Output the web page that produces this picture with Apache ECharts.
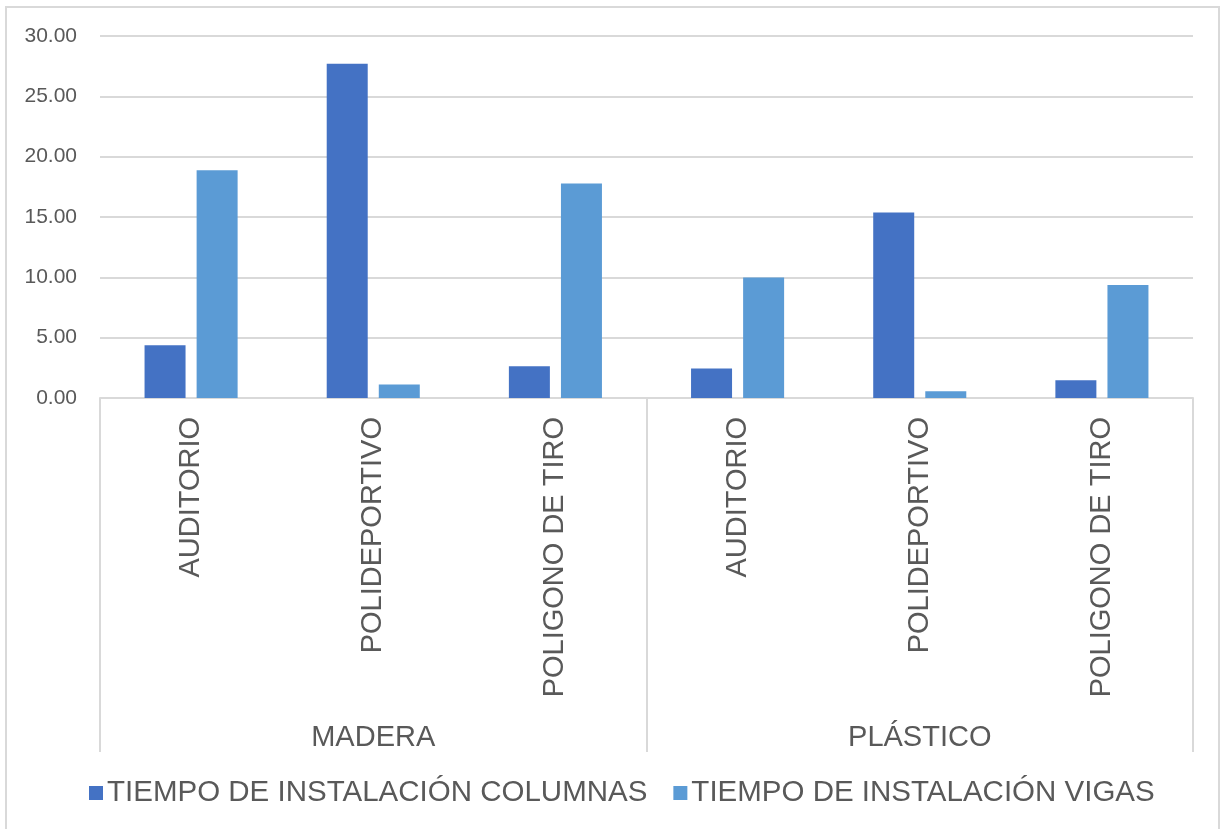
<!DOCTYPE html>
<html>
<head>
<meta charset="utf-8">
<script src="https://cdn.jsdelivr.net/npm/echarts@6/dist/echarts.min.js"></script>
<style>
html,body{margin:0;padding:0;background:#fff;}
#frame{position:absolute;left:5px;top:6px;width:1215px;height:830px;border:2px solid #d9d9d9;box-sizing:border-box;}
#chart{position:absolute;left:0;top:0;width:1224px;height:829px;}
</style>
</head>
<body>
<div id="frame"></div>
<div id="chart"></div>
<script>
const categories = ['AUDITORIO', 'POLIDEPORTIVO', 'POLIGONO DE TIRO', 'AUDITORIO', 'POLIDEPORTIVO', 'POLIGONO DE TIRO'];
const groups = ['MADERA', 'PLÁSTICO'];
const seriesNames = ['TIEMPO DE INSTALACIÓN COLUMNAS', 'TIEMPO DE INSTALACIÓN VIGAS'];
const columnas = [4.37, 27.70, 2.63, 2.44, 15.37, 1.47];
const vigas = [18.88, 1.11, 17.78, 9.98, 0.56, 9.37];
const yTicks = { min: 0, max: 30, interval: 5 };

const FONT = '"Liberation Sans", Arial, sans-serif';
const TXT = '#595959';
const LINE = '#d9d9d9';

const chart = echarts.init(document.getElementById('chart'), null, { renderer: 'canvas' });
chart.setOption({
  animation: false,
  backgroundColor: 'transparent',
  textStyle: { fontFamily: FONT },
  grid: { left: 100, right: 31, top: 36, bottom: 431, containLabel: false },
  legend: {
    data: seriesNames,
    left: 84,
    top: 773,
    icon: 'rect',
    itemWidth: 14,
    itemHeight: 14,
    itemGap: 26,
    textStyle: { fontFamily: FONT, fontSize: 29.5, color: TXT, padding: [0, 0, 0, -1] }
  },
  xAxis: [
    {
      type: 'category',
      data: categories,
      position: 'bottom',
      axisLine: { show: true, lineStyle: { color: LINE, width: 2 } },
      axisTick: { show: false },
      axisLabel: {
        rotate: 90,
        interval: 0,
        margin: 19,
        fontFamily: FONT,
        fontSize: 29,
        color: TXT
      },
      splitLine: { show: false }
    },
    {
      type: 'category',
      data: groups,
      position: 'bottom',
      axisLine: { show: false },
      axisTick: { show: true, interval: 0, length: 354, lineStyle: { color: LINE, width: 2 } },
      axisLabel: {
        interval: 0,
        margin: 325,
        fontFamily: FONT,
        fontSize: 29,
        color: TXT
      },
      splitLine: { show: false }
    }
  ],
  yAxis: {
    type: 'value',
    min: yTicks.min,
    max: yTicks.max,
    interval: yTicks.interval,
    axisLine: { show: false },
    axisTick: { show: false },
    axisLabel: {
      margin: 23,
      fontFamily: FONT,
      fontSize: 21,
      color: TXT,
      formatter: v => v.toFixed(2)
    },
    splitLine: { show: true, lineStyle: { color: LINE, width: 2 } }
  },
  series: [
    {
      name: seriesNames[0],
      type: 'bar',
      xAxisIndex: 0,
      data: columnas,
      barWidth: 41,
      barGap: '27%',
      itemStyle: { color: '#4472C4' }
    },
    {
      name: seriesNames[1],
      type: 'bar',
      xAxisIndex: 0,
      data: vigas,
      barWidth: 41,
      barGap: '27%',
      itemStyle: { color: '#5B9BD5' }
    }
  ]
});
</script>
</body>
</html>
